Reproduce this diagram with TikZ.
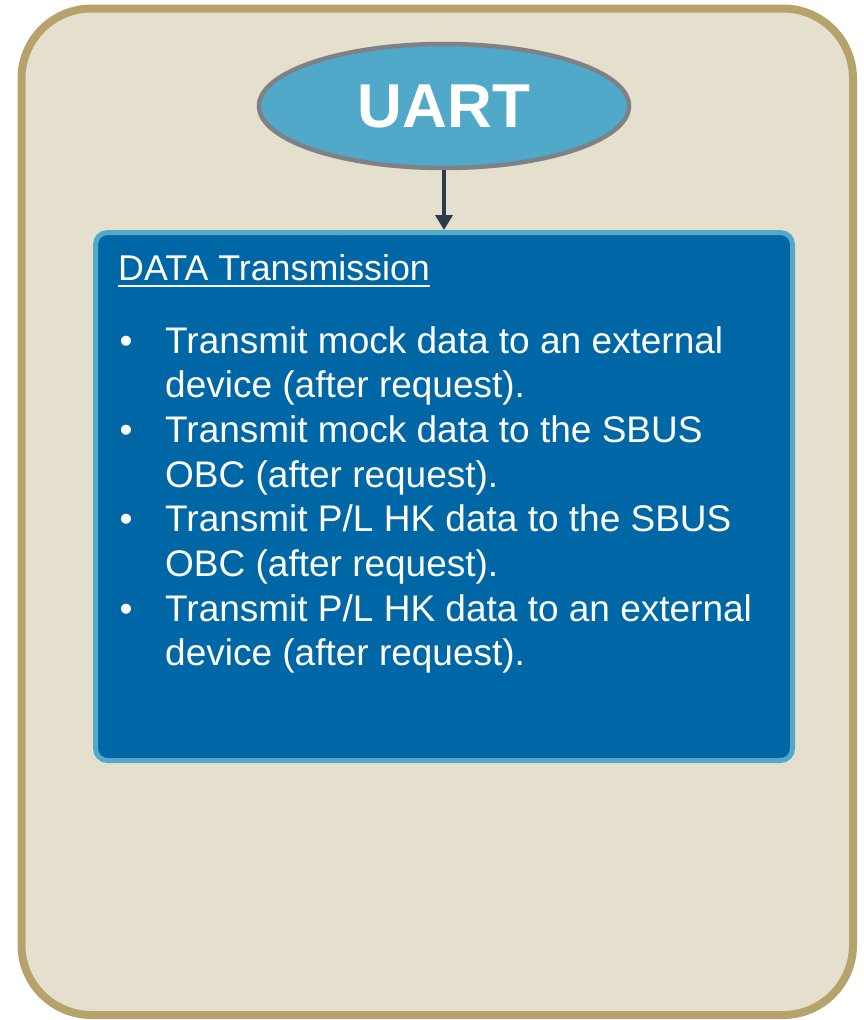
\documentclass[tikz,border=0pt]{standalone}
\usepackage{fontspec}
\setmainfont{Liberation Sans}
\usetikzlibrary{shapes.geometric,arrows.meta}
\definecolor{beige}{HTML}{E5DFCD}
\definecolor{gold}{HTML}{B6A36B}
\definecolor{ellfill}{HTML}{51A9C9}
\definecolor{ellline}{HTML}{7E8285}
\definecolor{boxfill}{HTML}{0067A6}
\definecolor{boxline}{HTML}{53A9C9}
\definecolor{arrowc}{HTML}{2D3C4B}
\tikzset{
  outerbox/.style={draw=gold, fill=beige, line width=8pt, rounded corners=70pt},
  uartell/.style={ellipse, draw=ellline, fill=ellfill, line width=4.5pt, minimum width=370pt, minimum height=124pt, inner sep=0pt,
     text=white, font=\fontsize{62}{70}\selectfont\bfseries},
  databox/.style={rectangle, draw=boxline, fill=boxfill, line width=5pt, rounded corners=12pt, minimum width=697pt, minimum height=528pt, inner sep=0pt},
  conn/.style={draw=arrowc, line width=4.5pt, -{Triangle[width=17pt,length=15pt]}},
  txt/.style={anchor=base west, inner sep=0pt, text=white, font=\fontsize{37}{44.7}\selectfont},
  headtxt/.style={anchor=base west, inner sep=0pt, text=white, font=\fontsize{35.8}{42}\selectfont},
}
\begin{document}
\begin{tikzpicture}[x=1pt,y=-1pt]
\useasboundingbox (0,0) rectangle (863,1020);
\path[outerbox] (21.5,8.5) rectangle (853,1015);
\node[uartell] (uart) at (444,106) {UART};
\node[databox] (box) at (444,496.5) {};
\draw[conn] (uart.south) -- (box.north);
\node[headtxt] (head) at (118,280) {DATA Transmission};
\draw[white, line width=2pt] ([yshift=-6pt]head.base west) -- ([yshift=-6pt]head.base east);
\node[txt] (b1) at (119.5,353) {•};
\node[txt] (l1) at (165,353) {Transmit mock data to an external};
\node[txt] (l2) at (165,397.7) {device (after request).};
\node[txt] (b2) at (119.5,442.4) {•};
\node[txt] (l3) at (165,442.4) {Transmit mock data to the SBUS};
\node[txt] (l4) at (165,487.1) {OBC (after request).};
\node[txt] (b3) at (119.5,531.8) {•};
\node[txt] (l5) at (165,531.8) {Transmit P/L HK data to the SBUS};
\node[txt] (l6) at (165,576.5) {OBC (after request).};
\node[txt] (b4) at (119.5,621.2) {•};
\node[txt] (l7) at (165,621.2) {Transmit P/L HK data to an external};
\node[txt] (l8) at (165,665.9) {device (after request).};
\end{tikzpicture}
\end{document}
